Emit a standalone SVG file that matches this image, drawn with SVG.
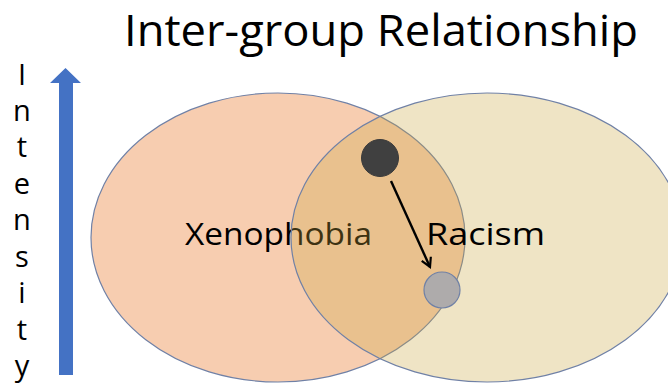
<svg xmlns="http://www.w3.org/2000/svg" width="668" height="387" viewBox="0 0 668 387">
  <style>
    .txt { font-family: "Open Sans", "Liberation Sans", sans-serif; fill: #000; }
    .edge { stroke: #7081A6; stroke-width: 1.2; }
    .axis-letter { font-size: 29px; text-anchor: middle; }
  </style>
  <defs>
    <marker id="vhead" viewBox="0 0 12 12" refX="10" refY="6" markerWidth="12" markerHeight="12" markerUnits="userSpaceOnUse" orient="auto">
      <path d="M1,1 L10,6 L1,11" fill="none" stroke="#000" stroke-width="2.2" stroke-linejoin="miter"/>
    </marker>
  </defs>
  <rect width="668" height="387" fill="#fff"/>

  <g id="title">
    <text class="txt" x="124" y="46" font-size="43" textLength="514" lengthAdjust="spacingAndGlyphs">Inter-group Relationship</text>
  </g>

  <g id="intensity-axis">
    <polygon points="59,375 73,375 73,83 81,83 65.5,68 50,83 59,83" fill="#4472C4"/>
    <g class="txt axis-letter">
      <text x="22" y="85">I</text>
      <text x="22" y="121">n</text>
      <text x="22" y="157">t</text>
      <text x="22" y="194">e</text>
      <text x="22" y="230">n</text>
      <text x="22" y="267">s</text>
      <text x="22" y="303">i</text>
      <text x="22" y="340">t</text>
      <text x="22" y="376">y</text>
    </g>
  </g>

  <g id="xenophobia">
    <ellipse cx="278" cy="237.5" rx="187" ry="144.5" fill="#F7CDB0" class="edge"/>
    <text class="txt" x="185" y="245" font-size="31" textLength="187" lengthAdjust="spacingAndGlyphs">Xenophobia</text>
  </g>

  <g id="racism">
    <ellipse cx="487" cy="237.5" rx="196" ry="144.5" fill="#C9A53E" fill-opacity="0.3" class="edge"/>
    <text class="txt" x="426" y="245" font-size="31" textLength="119" lengthAdjust="spacingAndGlyphs">Racism</text>
  </g>

  <g id="start-point">
    <circle cx="380" cy="158" r="18.5" fill="#404040" stroke="#3A3A3A" stroke-width="1"/>
  </g>

  <g id="end-point">
    <circle cx="442" cy="290" r="18" fill="#AEABAB" class="edge"/>
  </g>

  <g id="connectors">
    <line x1="391" y1="181" x2="430" y2="267" stroke="#000" stroke-width="2.4" marker-end="url(#vhead)"/>
  </g>
</svg>
